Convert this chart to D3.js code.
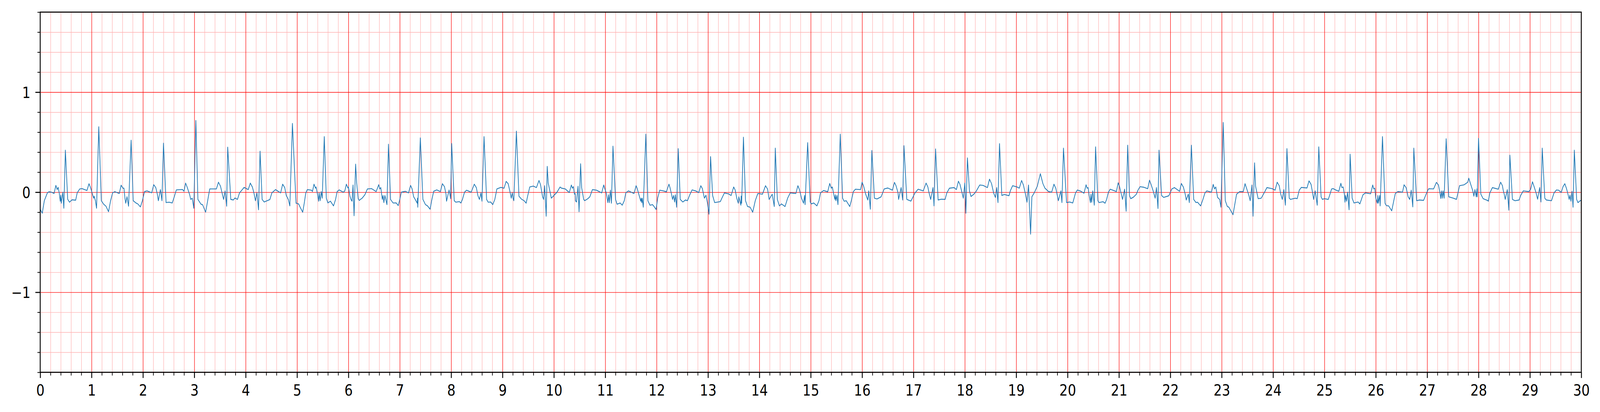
<!DOCTYPE html>
<html>
<head>
<meta charset="utf-8">
<script src="https://cdn.jsdelivr.net/npm/d3@7"></script>
<style>
  html, body { margin: 0; padding: 0; background: #ffffff; overflow: hidden; }
  svg { display: block; }
  text { font-family: "DejaVu Sans", sans-serif; }
</style>
</head>
<body>
<div id="chart"></div>
<script>
// ---------------- data ----------------
// time in seconds
const timeSec = [
0.00,0.04,0.08,0.14,0.17,0.22,0.27,0.305,0.33,0.35,0.37,0.39,0.40,0.41,0.44,0.46,0.49,0.535,0.57,0.62,0.69,0.72,0.77,0.815,0.91,0.95,0.98,
1.01,1.04,1.05,1.075,1.097,1.14,1.19,1.235,1.28,1.33,1.37,1.41,1.45,1.54,1.575,1.61,1.63,1.65,1.665,1.69,1.72,1.77,1.81,1.87,1.90,1.95,1.99,
2.03,2.08,2.17,2.21,2.25,2.28,2.30,2.34,2.37,2.40,2.45,2.51,2.57,2.61,2.65,2.77,2.80,2.83,2.86,2.91,2.93,2.96,2.99,
3.03,3.07,3.13,3.16,3.22,3.26,3.30,3.43,3.47,3.51,3.54,3.57,3.60,3.63,3.65,3.71,3.76,3.79,3.84,3.88,3.97,
4.05,4.09,4.13,4.16,4.19,4.22,4.25,4.28,4.32,4.36,4.47,4.51,4.58,4.68,4.72,4.76,4.79,4.83,4.86,4.91,4.98,
5.03,5.07,5.11,5.14,5.17,5.20,5.28,5.30,5.33,5.36,5.37,5.40,5.42,5.43,5.45,5.47,5.49,5.53,5.57,5.60,5.65,5.71,5.75,5.78,5.82,5.90,5.93,5.96,5.99,
6.00,6.03,6.05,6.07,6.09,6.11,6.14,6.16,6.19,6.21,6.27,6.32,6.37,6.45,6.54,6.59,6.61,6.63,6.66,6.675,6.69,6.71,6.75,6.78,6.82,6.87,6.93,6.97,
7.00,7.03,7.11,7.17,7.21,7.24,7.27,7.30,7.34,7.345,7.35,7.40,7.45,7.50,7.54,7.59,7.62,7.66,7.72,7.79,7.83,7.87,7.90,7.91,7.96,7.99,
8.01,8.06,8.09,8.16,8.19,8.22,8.26,8.30,8.39,8.45,8.49,8.52,8.55,8.58,8.60,8.64,8.69,8.72,8.77,8.81,8.85,8.89,8.97,
9.03,9.07,9.11,9.15,9.17,9.19,9.205,9.22,9.27,9.32,9.37,9.42,9.46,9.48,9.53,9.60,9.66,9.71,9.74,9.76,9.78,9.80,9.82,9.85,9.87,9.89,9.95,
10.00,10.06,10.12,10.15,10.22,10.30,10.34,10.36,10.38,10.40,10.415,10.42,10.44,10.47,10.49,10.52,10.54,10.58,10.60,10.66,10.70,10.75,10.83,10.93,10.97,10.99,
11.02,11.05,11.065,11.08,11.10,11.12,11.15,11.20,11.23,11.29,11.33,11.37,11.40,11.45,11.56,11.60,11.62,11.66,11.69,11.70,11.71,11.72,11.74,11.79,11.83,11.87,11.92,11.95,11.99,
12.02,12.06,12.13,12.19,12.24,12.26,12.29,12.31,12.33,12.35,12.365,12.39,12.42,12.46,12.51,12.56,12.60,12.64,12.69,12.76,12.82,12.86,12.89,12.93,12.96,12.99,
13.02,13.05,13.09,13.13,13.24,13.27,13.32,13.40,13.45,13.50,13.53,13.56,13.59,13.60,13.64,13.645,13.655,13.69,13.73,13.77,13.82,13.87,13.92,13.97,
14.06,14.12,14.16,14.19,14.25,14.29,14.31,14.35,14.39,14.43,14.50,14.55,14.60,14.71,14.75,14.78,14.82,14.86,14.88,14.89,14.94,14.99,
15.01,15.06,15.12,15.16,15.19,15.25,15.33,15.37,15.40,15.42,15.45,15.47,15.48,15.49,15.51,15.53,15.575,15.62,15.65,15.69,15.76,15.79,15.83,15.87,15.97,
16.00,16.03,16.07,16.11,16.13,16.16,16.19,16.24,16.29,16.37,16.43,16.50,16.59,16.63,16.66,16.70,16.71,16.76,16.79,16.815,16.87,16.95,
17.03,17.09,17.19,17.245,17.28,17.30,17.335,17.38,17.40,17.43,17.48,17.545,17.615,17.65,17.70,17.79,17.835,17.875,17.905,17.94,17.97,
18.00,18.02,18.05,18.09,18.12,18.175,18.22,18.29,18.355,18.44,18.48,18.52,18.56,18.595,18.62,18.645,18.675,18.72,18.77,18.86,18.885,18.93,
19.015,19.06,19.105,19.14,19.18,19.21,19.24,19.28,19.305,19.35,19.41,19.47,19.52,19.56,19.63,19.69,19.735,19.77,19.80,19.82,19.87,19.89,19.92,19.98,
20.04,20.10,20.12,20.155,20.19,20.26,20.32,20.36,20.38,20.40,20.42,20.445,20.455,20.47,20.49,20.52,20.545,20.59,20.61,20.69,20.73,20.76,20.795,20.83,20.95,20.985,
21.01,21.04,21.07,21.11,21.14,21.17,21.205,21.23,21.285,21.34,21.37,21.41,21.48,21.56,21.595,21.625,21.67,21.705,21.73,21.76,21.78,21.83,21.87,21.97,
22.03,22.08,22.18,22.215,22.255,22.29,22.31,22.35,22.37,22.41,22.455,22.50,22.53,22.59,22.635,22.675,22.71,22.80,22.835,22.86,22.885,22.92,22.96,22.985,
23.03,23.07,23.11,23.14,23.22,23.25,23.29,23.35,23.42,23.455,23.48,23.53,23.555,23.59,23.61,23.64,23.66,23.71,23.77,23.84,23.88,23.98,
24.04,24.08,24.12,24.15,24.18,24.21,24.24,24.27,24.315,24.34,24.435,24.47,24.51,24.55,24.66,24.70,24.74,24.77,24.79,24.82,24.86,24.89,24.935,24.96,
25.00,25.075,25.10,25.14,25.17,25.22,25.28,25.32,25.34,25.365,25.39,25.40,25.41,25.43,25.45,25.48,25.50,25.54,25.575,25.655,25.69,25.72,25.75,25.80,25.90,25.94,25.96,25.98,
26.00,26.03,26.04,26.05,26.075,26.085,26.13,26.18,26.205,26.25,26.31,26.35,26.38,26.43,26.52,26.55,26.59,26.63,26.66,26.69,26.72,26.74,26.795,26.85,26.93,
27.00,27.03,27.125,27.18,27.22,27.245,27.265,27.28,27.295,27.31,27.33,27.37,27.42,27.51,27.57,27.60,27.63,27.72,27.79,27.81,27.84,27.885,27.91,27.93,27.955,27.97,27.975,
28.00,28.045,28.09,28.175,28.19,28.22,28.27,28.385,28.43,28.465,28.48,28.50,28.52,28.56,28.59,28.61,28.66,28.71,28.79,28.82,28.87,28.98,
29.015,29.05,29.08,29.12,29.15,29.19,29.215,29.24,29.29,29.32,29.42,29.47,29.515,29.56,29.61,29.645,29.68,29.71,29.735,29.765,29.78,29.80,29.82,29.84,29.865,29.91,29.935,29.98,30.00
];
// amplitude (mV) at each time above
const amplitude = [
-0.17,-0.21,-0.085,-0.006,0.004,0.0,-0.013,0.068,0.026,0.048,-0.007,-0.09,-0.03,-0.11,0.0,-0.16,0.42,-0.07,-0.10,-0.076,-0.08,-0.007,0.033,0.036,0.017,0.085,0.046,
-0.007,-0.06,-0.04,-0.085,-0.16,0.654,-0.085,-0.12,-0.14,-0.195,-0.085,-0.006,0.005,-0.013,0.07,0.04,0.04,-0.06,-0.11,-0.045,-0.14,0.52,-0.085,-0.11,-0.117,-0.147,-0.085,
0.006,0.013,-0.006,0.075,0.046,-0.02,-0.085,0.026,-0.085,0.49,-0.104,-0.10,-0.108,-0.046,0.023,0.027,0.009,0.091,0.052,-0.026,-0.072,-0.06,-0.16,
0.717,-0.072,-0.12,-0.124,-0.20,-0.085,0.033,0.033,0.10,0.059,-0.007,-0.072,0.013,-0.14,0.45,-0.072,-0.078,-0.058,-0.072,-0.007,0.048,
0.026,0.091,0.052,-0.006,-0.085,-0.006,-0.176,0.41,-0.072,-0.098,-0.074,-0.007,0.026,-0.007,0.08,0.046,-0.033,-0.072,-0.137,0.687,-0.11,
-0.117,-0.16,-0.20,-0.11,-0.007,0.026,0.02,0.007,0.08,0.04,0.052,-0.026,-0.09,-0.007,-0.085,0.006,-0.06,0.556,-0.06,-0.107,-0.09,-0.137,-0.072,0.006,0.023,0.0,0.013,0.08,0.042,
0.052,-0.04,-0.072,-0.09,0.072,-0.235,0.28,0.098,-0.065,-0.082,-0.058,-0.026,0.033,0.036,0.006,0.075,0.033,0.046,-0.072,-0.033,-0.104,-0.033,-0.124,0.48,-0.072,-0.108,-0.107,-0.134,
-0.072,0.0,0.009,-0.007,0.068,0.033,-0.046,-0.072,-0.11,-0.06,-0.15,0.543,-0.072,-0.124,-0.137,-0.17,-0.085,0.009,0.023,0.006,0.085,0.055,-0.02,-0.09,0.022,-0.065,
0.486,-0.085,-0.10,-0.094,-0.108,-0.072,0.0,0.02,0.0,0.08,0.046,-0.033,-0.072,-0.007,-0.09,0.556,-0.072,-0.10,-0.098,-0.124,-0.072,0.033,0.048,
0.04,0.108,0.085,-0.007,-0.06,-0.007,-0.06,-0.085,0.61,-0.04,-0.07,-0.085,-0.11,-0.06,0.052,0.061,0.046,0.117,0.074,0.013,-0.046,-0.072,0.065,-0.24,0.258,0.09,-0.06,
-0.033,0.0,0.052,0.04,0.033,-0.004,0.072,0.04,0.056,-0.02,-0.013,-0.085,-0.098,0.059,-0.195,0.284,0.046,-0.072,-0.085,-0.065,-0.046,0.026,0.02,-0.007,0.072,0.036,
-0.007,-0.104,-0.026,-0.104,0.02,-0.11,0.46,-0.072,-0.12,-0.108,-0.13,-0.085,-0.007,0.013,-0.013,0.065,0.04,-0.033,-0.09,-0.06,-0.104,-0.06,-0.15,0.58,-0.085,-0.13,-0.124,-0.143,-0.173,
-0.06,0.02,0.013,0.004,0.08,0.046,-0.02,-0.072,-0.033,-0.098,-0.026,-0.15,0.436,-0.072,-0.098,-0.078,-0.085,-0.033,0.023,0.013,-0.004,0.065,0.036,-0.06,-0.03,-0.11,
-0.22,0.356,-0.033,-0.104,-0.094,-0.06,-0.007,-0.017,-0.033,0.052,0.02,-0.06,-0.11,-0.046,-0.13,-0.04,-0.11,0.55,-0.085,-0.143,-0.15,-0.2,-0.085,-0.013,
-0.02,0.065,0.03,-0.072,-0.02,-0.143,0.44,-0.072,-0.137,-0.117,-0.143,-0.06,-0.007,-0.013,0.065,0.026,-0.06,-0.11,-0.033,-0.124,0.495,-0.098,
-0.117,-0.108,-0.137,-0.085,-0.007,0.017,0.004,0.087,0.04,0.052,-0.026,-0.072,-0.026,-0.085,-0.033,-0.124,0.58,-0.06,-0.09,-0.085,-0.143,-0.085,0.006,0.03,0.026,
0.10,0.059,-0.02,-0.078,0.013,-0.17,0.417,-0.06,-0.068,-0.046,0.033,0.042,0.02,0.098,0.065,-0.007,-0.072,0.046,-0.078,0.465,-0.072,-0.089,
-0.007,0.03,0.013,0.091,0.052,0.0,-0.072,0.046,-0.137,0.433,-0.078,-0.07,-0.072,-0.007,0.04,0.046,0.026,0.11,0.078,0.006,-0.06,
0.091,-0.21,0.343,0.013,-0.043,-0.02,0.009,0.072,0.068,0.046,0.13,0.085,-0.007,-0.052,0.046,-0.104,0.485,-0.033,-0.023,-0.035,0.013,0.065,
0.052,0.04,0.117,0.072,-0.02,-0.1,0.072,-0.42,-0.046,-0.007,0.059,0.185,0.085,0.04,0.006,0.0,0.08,0.04,-0.033,-0.085,0.013,-0.104,0.44,-0.104,
-0.098,-0.108,-0.072,-0.007,0.022,0.009,-0.01,0.074,0.04,0.046,-0.033,-0.104,-0.02,-0.1,0.013,-0.13,0.453,-0.085,-0.104,-0.095,-0.11,-0.072,0.0,0.03,0.006,0.094,
0.059,-0.007,-0.072,0.03,-0.19,0.47,-0.033,-0.065,-0.048,-0.02,0.02,0.055,0.05,0.035,0.12,0.078,0.006,-0.06,0.046,-0.163,0.42,-0.033,-0.052,-0.036,
0.033,0.046,0.009,0.087,0.05,-0.02,-0.078,-0.02,-0.104,0.47,-0.072,-0.104,-0.1,-0.137,-0.072,-0.007,0.013,0.0,0.078,0.033,0.052,-0.052,-0.072,-0.15,
0.697,-0.085,-0.143,-0.15,-0.225,-0.137,-0.02,0.006,0.006,0.085,0.046,-0.033,-0.085,0.072,-0.24,0.293,0.059,-0.065,-0.06,0.006,0.046,0.036,
0.02,0.10,0.065,-0.02,-0.072,0.026,-0.13,0.436,-0.06,-0.072,-0.06,-0.065,0.02,0.048,0.042,0.113,0.078,-0.007,-0.072,0.013,-0.13,0.453,-0.046,-0.072,
-0.065,-0.072,-0.033,0.033,0.036,0.022,0.009,0.089,0.046,0.052,-0.026,-0.1,-0.033,-0.09,0.0,-0.176,0.38,-0.06,-0.108,-0.098,-0.117,-0.072,-0.026,-0.007,-0.016,0.072,0.033,0.04,
-0.06,-0.11,-0.033,-0.11,-0.033,-0.137,0.556,-0.11,-0.134,-0.137,-0.186,-0.085,-0.013,0.006,0.0,0.074,0.046,-0.046,-0.072,0.02,-0.147,0.44,-0.085,-0.078,-0.082,
0.006,0.035,0.033,0.098,0.072,0.006,-0.063,0.013,-0.06,0.013,-0.06,0.534,-0.046,-0.06,-0.072,-0.007,0.065,0.074,0.1,0.14,0.091,0.02,-0.04,0.026,-0.046,0.033,-0.046,
0.538,-0.02,-0.065,-0.082,-0.09,-0.007,0.046,0.03,0.1,0.065,0.02,-0.02,-0.072,0.026,-0.18,0.37,-0.072,-0.085,-0.078,-0.033,0.013,0.006,
0.03,0.104,0.059,-0.007,-0.07,0.046,-0.098,0.44,-0.06,-0.078,-0.085,-0.007,0.022,0.02,-0.003,0.056,0.085,0.04,-0.007,-0.072,-0.03,-0.09,0.009,-0.15,0.42,-0.072,-0.104,-0.085,-0.08
];
// axis ticks
const xTickValues = [0,1,2,3,4,5,6,7,8,9,10,11,12,13,14,15,16,17,18,19,20,21,22,23,24,25,26,27,28,29,30];
const yTickValues = [-1, 0, 1];
const yTickLabels = ["\u22121", "0", "1"];
const xDomain = [0, 30];
const yDomain = [-1.8, 1.8];
const minorStep = 0.2;

// ---------------- layout (drawn in the reference's 4827x1055 frame, fitted to the window) ----------------
const W = 4827, H = 1055;
const plot = { left: 121.3, right: 4770.5, top: 31, bottom: 953.3 };
const fontSize = 39.5;

const svg = d3.select("#chart").append("svg")
  .attr("width", window.innerWidth || W)
  .attr("height", window.innerHeight || H)
  .attr("viewBox", `0 0 ${W} ${H}`)
  .attr("preserveAspectRatio", "none");

svg.append("rect").attr("width", W).attr("height", H).attr("fill", "#ffffff");

const x = d3.scaleLinear().domain(xDomain).range([plot.left, plot.right]);
const y = d3.scaleLinear().domain(yDomain).range([plot.bottom, plot.top]);

const isMajorX = v => xTickValues.some(t => Math.abs(t - v) < 1e-6);
const isMajorY = v => yTickValues.some(t => Math.abs(t - v) < 1e-6);
const xMinor = d3.range(0, 151).map(i => +(i * minorStep).toFixed(4)).filter(v => !isMajorX(v));
const yMinor = d3.range(-9, 10).map(i => +(i * minorStep).toFixed(4)).filter(v => !isMajorY(v));

const pw = plot.right - plot.left, ph = plot.bottom - plot.top;

// ---------------- grid ----------------
const minorColor = "#ffb2b2";
const majorColor = "#ff0000";
const gridW = 1.4;

function styleGrid(g, color) {
  g.select(".domain").remove();
  g.selectAll(".tick line").attr("stroke", color).attr("stroke-width", gridW);
  g.selectAll(".tick text").remove();
}

svg.append("g")
  .attr("transform", `translate(0,${plot.bottom})`)
  .call(d3.axisBottom(x).tickValues(xMinor).tickSize(-ph).tickFormat(""))
  .call(g => styleGrid(g, minorColor));
svg.append("g")
  .attr("transform", `translate(${plot.left},0)`)
  .call(d3.axisLeft(y).tickValues(yMinor).tickSize(-pw).tickFormat(""))
  .call(g => styleGrid(g, minorColor));
svg.append("g")
  .attr("transform", `translate(0,${plot.bottom})`)
  .call(d3.axisBottom(x).tickValues(xTickValues).tickSize(-ph).tickFormat(""))
  .call(g => styleGrid(g, majorColor));
svg.append("g")
  .attr("transform", `translate(${plot.left},0)`)
  .call(d3.axisLeft(y).tickValues(yTickValues).tickSize(-pw).tickFormat(""))
  .call(g => styleGrid(g, majorColor));

// ---------------- signal ----------------
svg.append("clipPath").attr("id", "clip")
  .append("rect").attr("x", plot.left).attr("y", plot.top).attr("width", pw).attr("height", ph);

const series = timeSec.map((t, i) => ({ t, v: amplitude[i] }));
const line = d3.line().x(d => x(d.t)).y(d => y(d.v));
svg.append("path")
  .datum(series)
  .attr("clip-path", "url(#clip)")
  .attr("fill", "none")
  .attr("stroke", "#1f77b4")
  .attr("stroke-width", 2.1)
  .attr("stroke-linejoin", "round")
  .attr("stroke-linecap", "butt")
  .attr("d", line);

// ---------------- spines ----------------
svg.append("rect")
  .attr("x", plot.left).attr("y", plot.top)
  .attr("width", pw).attr("height", ph)
  .attr("fill", "none").attr("stroke", "#000").attr("stroke-width", 2.7);

// ---------------- ticks & labels ----------------
const majorLen = 14.6, minorLen = 8.3, pad = 14.6;

svg.append("g")
  .attr("transform", `translate(0,${plot.bottom})`)
  .call(d3.axisBottom(x).tickValues(xMinor).tickSize(minorLen).tickFormat(""))
  .call(g => { g.select(".domain").remove(); g.selectAll(".tick line").attr("stroke", "#000").attr("stroke-width", 2.0); });
svg.append("g")
  .attr("transform", `translate(0,${plot.bottom})`)
  .call(d3.axisBottom(x).tickValues(xTickValues).tickSize(majorLen).tickPadding(pad).tickFormat(d => String(d)))
  .call(g => {
    g.select(".domain").remove();
    g.selectAll(".tick line").attr("stroke", "#000").attr("stroke-width", 2.7);
    g.selectAll(".tick text")
      .attr("fill", "#000")
      .attr("font-family", "DejaVu Sans")
      .attr("font-size", fontSize)
      .attr("dy", "0.76em");
  });

svg.append("g")
  .attr("transform", `translate(${plot.left},0)`)
  .call(d3.axisLeft(y).tickValues(yMinor).tickSize(minorLen).tickFormat(""))
  .call(g => { g.select(".domain").remove(); g.selectAll(".tick line").attr("stroke", "#000").attr("stroke-width", 2.0); });
svg.append("g")
  .attr("transform", `translate(${plot.left},0)`)
  .call(d3.axisLeft(y).tickValues(yTickValues).tickSize(majorLen).tickPadding(pad)
    .tickFormat(d => yTickLabels[yTickValues.indexOf(d)]))
  .call(g => {
    g.select(".domain").remove();
    g.selectAll(".tick line").attr("stroke", "#000").attr("stroke-width", 2.7);
    g.selectAll(".tick text")
      .attr("fill", "#000")
      .attr("font-family", "DejaVu Sans")
      .attr("font-size", fontSize)
      .attr("dy", "0.36em");
  });
</script>
</body>
</html>
